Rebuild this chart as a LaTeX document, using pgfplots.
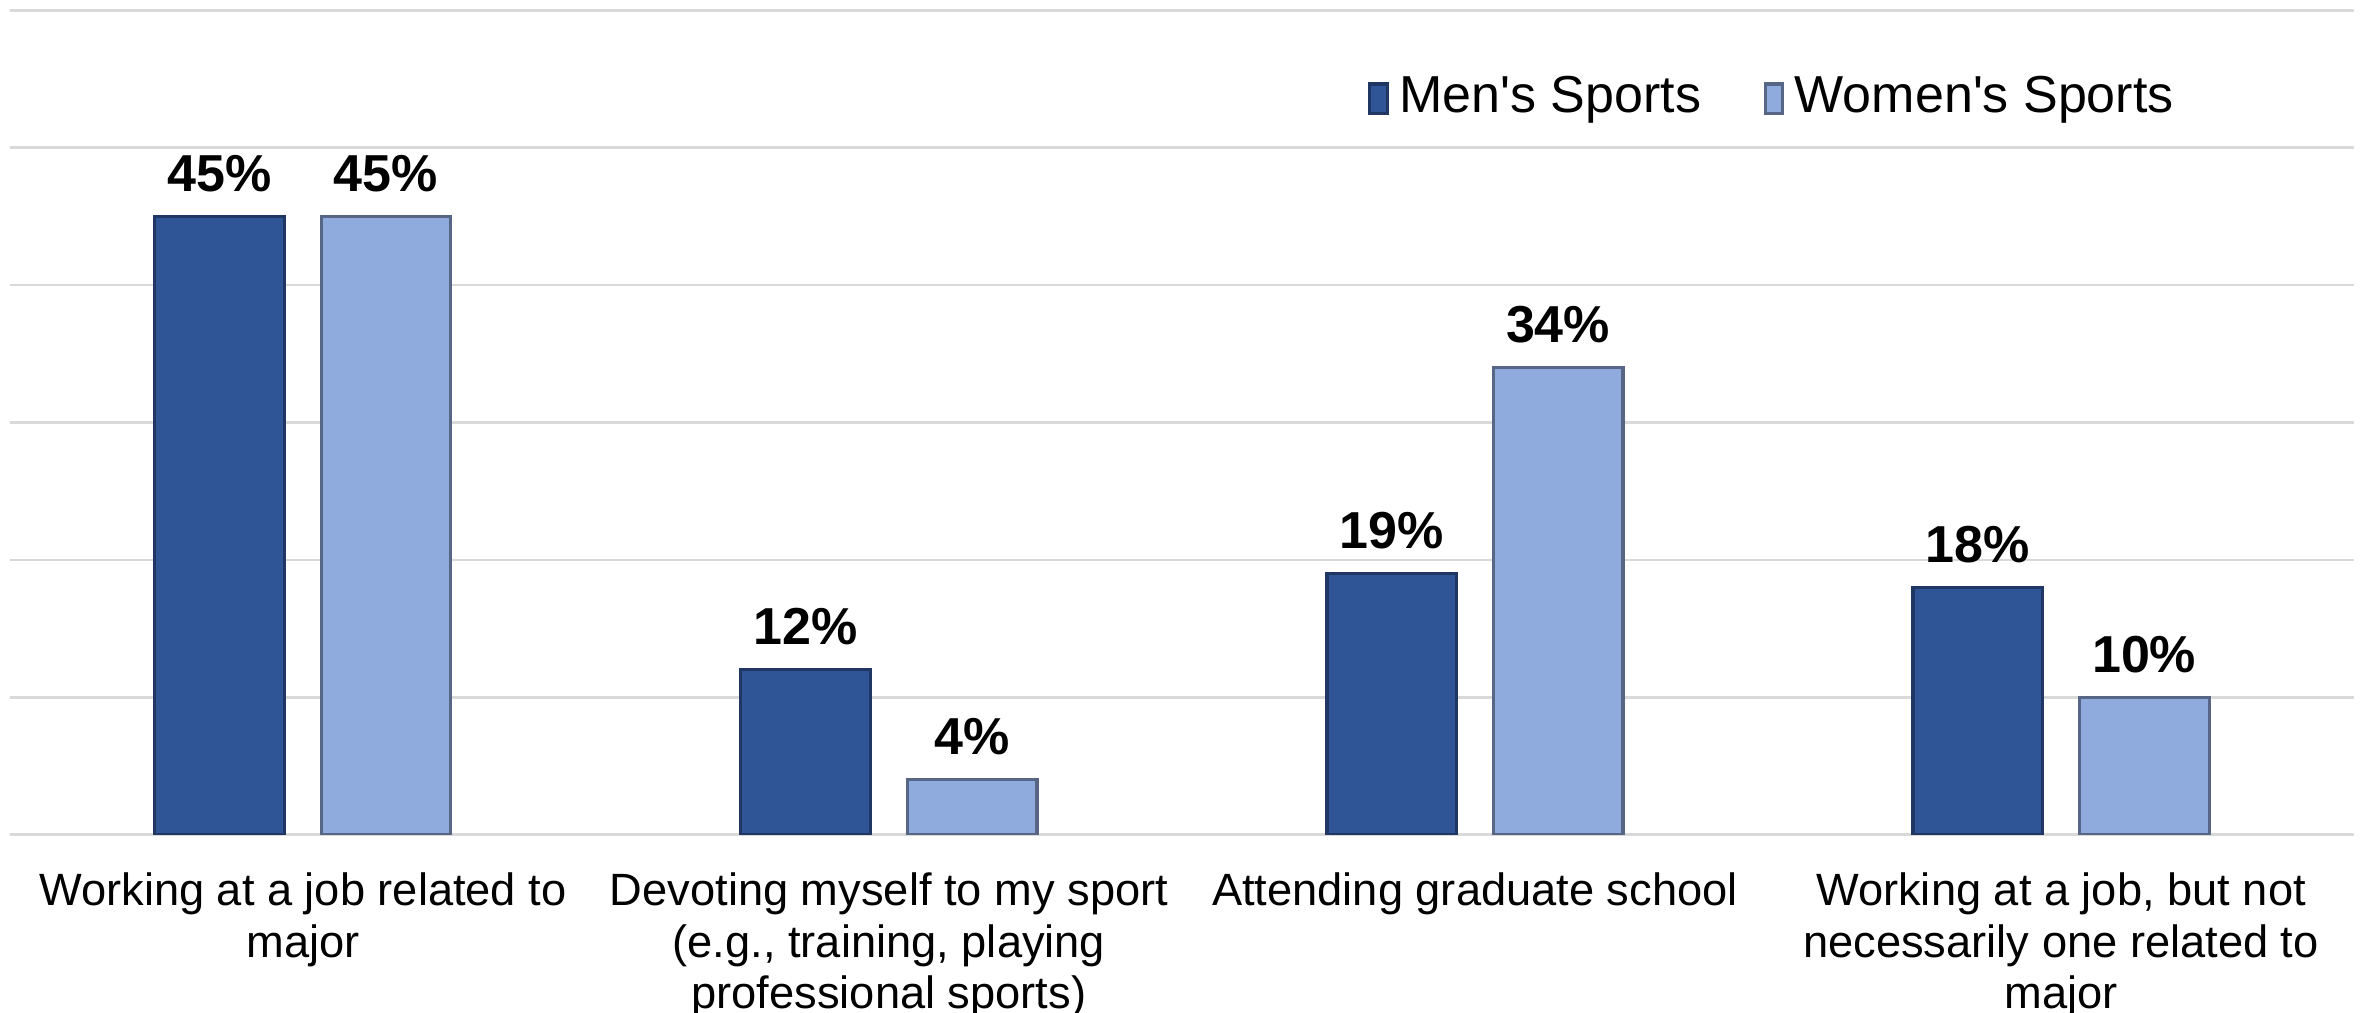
\documentclass[border=0pt]{standalone}
\usepackage{pgfplots}
\pgfplotsset{compat=1.18}
\usepackage{fontspec}
\setmainfont{Liberation Sans}
\definecolor{menblue}{RGB}{47,85,151}
\definecolor{womenblue}{RGB}{143,170,220}
\definecolor{gridgray}{RGB}{217,217,217}

\begin{document}
\begin{tikzpicture}
\useasboundingbox (-1.9pt,-34.3pt) rectangle (453.1pt,160.5pt);
\begin{axis}[
    scale only axis,
    width=450.8pt, height=158.5pt,
    ymin=0, ymax=60, xmin=-0.5, xmax=3.5,
    ytick={0,10,...,60}, yticklabels={},
    ymajorgrids,
    grid style={gridgray, line width=0.5pt},
    xtick={0,1,2,3},
    xticklabels={
        {Working at a job related to\\major},
        {Devoting myself to my sport\\(e.g., training, playing\\professional sports)},
        {Attending graduate school},
        {Working at a job, but not\\necessarily one related to\\major}},
    xticklabel style={align=center, font=\fontsize{8.7}{9.9}\selectfont, yshift=0.4pt},
    axis line style={draw=none},
    major tick style={draw=none},
    ybar, bar width=0.2216,
    nodes near coords={\pgfmathprintnumber[assume math mode=true]{\pgfplotspointmeta}\%},
    nodes near coords style={font=\bfseries\fontsize{10}{12}\selectfont, anchor=south, inner sep=0pt, yshift=4.4pt, text=black},
    legend image code/.code={\fill[#1] (0pt,-2.8pt) rectangle (3.4pt,2.8pt);},
    legend style={at={(0.579,0.893)}, anchor=west, draw=none, fill=none, inner sep=0pt,
        font=\fontsize{10}{11}\selectfont,
        /tikz/every even column/.append style={column sep=10pt}},
    legend columns=2,
]
\addplot[fill=menblue, draw=menblue!65!black, line width=0.6pt, bar shift=-0.1418]
    coordinates {(0,45)(1,12)(2,19)(3,18)};
\addplot[fill=womenblue, draw=womenblue!60!black, line width=0.6pt, bar shift=0.1418]
    coordinates {(0,45)(1,4)(2,34)(3,10)};
\legend{Men\textquotesingle s Sports, Women\textquotesingle s Sports}
\end{axis}
\end{tikzpicture}
\end{document}
